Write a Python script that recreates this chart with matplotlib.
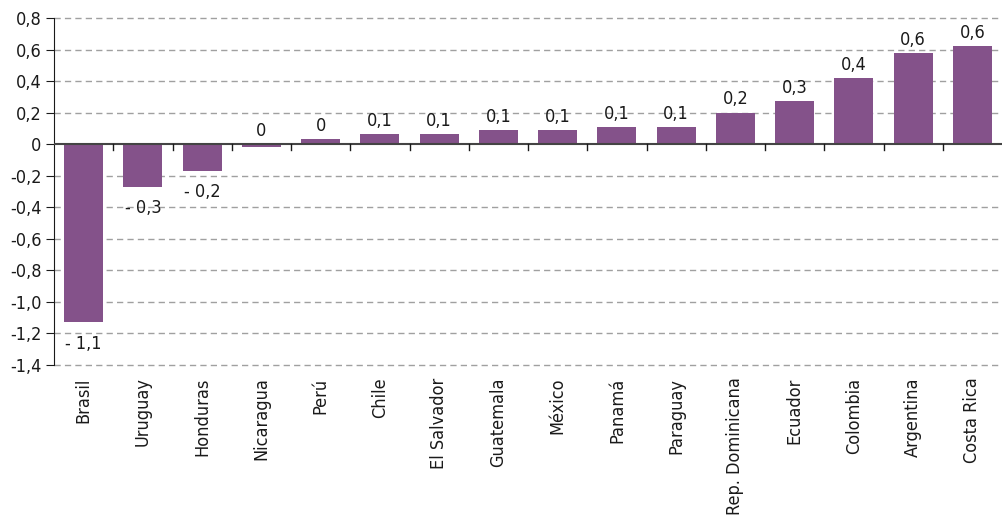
import matplotlib.pyplot as plt
import matplotlib.font_manager as fm
import numpy as np

# Daten
countries = ['Brasil', 'Uruguay', 'Honduras', 'Nicaragua', 'Perú', 'Chile',
             'El Salvador', 'Guatemala', 'México', 'Panamá', 'Paraguay',
             'Rep. Dominicana', 'Ecuador', 'Colombia', 'Argentina', 'Costa Rica']
values = [-1.13, -0.27, -0.17, -0.02, 0.03, 0.065, 0.065, 0.09, 0.09, 0.11,
          0.11, 0.20, 0.275, 0.42, 0.58, 0.62]
labels = ['- 1,1', '- 0,3', '- 0,2', '0', '0', '0,1', '0,1', '0,1', '0,1',
          '0,1', '0,1', '0,2', '0,3', '0,4', '0,6', '0,6']
yticks = [0.8, 0.6, 0.4, 0.2, 0, -0.2, -0.4, -0.6, -0.8, -1.0, -1.2, -1.4]


def is_narrow(f):
    narrow_name = 'Narrow' in f.name or 'Condensed' in f.name or 'Condensed' in f.fname
    narrow_stretch = f.stretch in ('condensed', 'semi-condensed', 'extra-condensed', 'ultra-condensed')
    regular = f.weight in (400, 'normal', 'regular', 'book') and f.style == 'normal'
    return (narrow_name or narrow_stretch) and regular


# schmale Schrift, falls vorhanden
narrow = [f for f in fm.fontManager.ttflist if is_narrow(f)]
narrow.sort(key=lambda f: ('Oblique' in f.fname or 'Bold' in f.fname or 'Italic' in f.fname, f.fname))
if narrow:
    fp = fm.FontProperties(fname=narrow[0].fname)
else:
    fp = fm.FontProperties(family='DejaVu Sans')
fp.set_size(13)

bar_color = '#84528a'
txt_color = '#1a1a1a'

fig = plt.figure(figsize=(10.02, 5.15), dpi=100)
ax = fig.add_axes([54 / 1002, 1 - 365 / 515, 948 / 1002, (365 - 18) / 515])

x = np.arange(len(countries))
ax.bar(x, values, width=0.66, color=bar_color, zorder=3)

for xi, v, lab in zip(x, values, labels):
    if lab.startswith('-'):
        ax.annotate(lab, (xi, v), xytext=(0, -9), textcoords='offset points',
                    ha='center', va='top', fontproperties=fp, color=txt_color)
    else:
        ax.annotate(lab, (xi, max(v, 0)), xytext=(0, 3), textcoords='offset points',
                    ha='center', va='bottom', fontproperties=fp, color=txt_color)

ax.set_xlim(-0.5, len(countries) - 0.5)
ax.set_ylim(-1.4, 0.8)
ax.set_yticks(yticks)
ax.set_yticklabels([('%.1f' % t).replace('.', ',') if t != 0 else '0' for t in yticks])
for lbl in ax.get_yticklabels():
    lbl.set_fontproperties(fp)
    lbl.set_color(txt_color)
for t in yticks:
    if t != 0:
        ax.axhline(t, color='#a0a0a0', lw=1, ls=(0, (4.5, 3)), zorder=1, clip_on=False)
ax.axhline(0, color='#444444', lw=1.5, zorder=4)

# Kategorienamen unten, Ticks an der Nulllinie
ax.set_xticks([])
for xi, c in zip(x, countries):
    ax.annotate(c, (xi, -1.4), xytext=(0, -9), textcoords='offset points',
                rotation=90, ha='center', va='top', fontproperties=fp, color=txt_color)
for b in np.arange(0.5, len(countries) - 0.5, 1):
    ax.plot([b, b], [0, -0.04], color=txt_color, lw=1, zorder=4, clip_on=False)

for s in ['top', 'right', 'bottom']:
    ax.spines[s].set_visible(False)
ax.spines['left'].set_color(txt_color)
ax.tick_params(axis='y', length=6, color=txt_color, pad=3)

fig.savefig('out.png', dpi=100)
